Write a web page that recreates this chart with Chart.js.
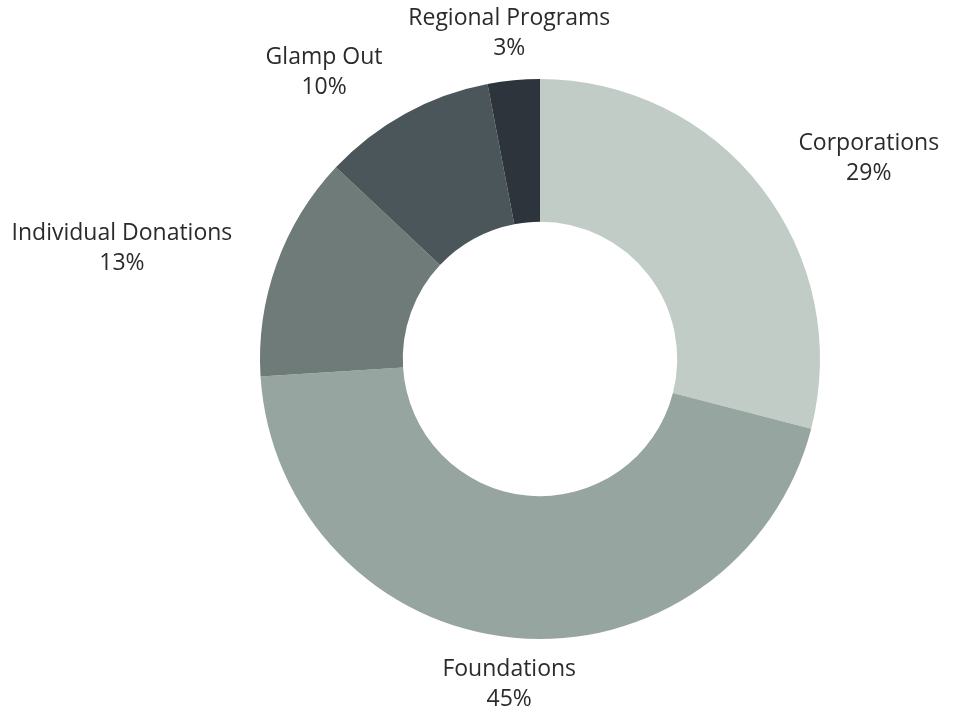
<!DOCTYPE html>
<html>
<head>
<meta charset="utf-8">
<script src="https://cdn.jsdelivr.net/npm/chart.js@4/dist/chart.umd.min.js"></script>
<style>
    html, body { margin: 0; padding: 0; background: #fff; }
    #wrap { width: 956px; height: 715px; position: relative; }
</style>
</head>
<body>
<div id="wrap"><canvas id="fundingChart"></canvas></div>
<script>
// Funding sources, clockwise from 12 o'clock
const categories = ['Corporations', 'Foundations', 'Individual Donations', 'Glamp Out', 'Regional Programs'];
const shares = [29, 45, 13, 10, 3];
const sliceColors = ['#c1ccc6', '#97a5a0', '#6e7b79', '#4b565b', '#2e343b'];

// draws "Name / NN%" just outside each slice
const outsideLabels = {
    id: 'outsideLabels',
    afterDatasetsDraw(chart) {
        const ctx = chart.ctx;
        const meta = chart.getDatasetMeta(0);
        ctx.save();
        ctx.font = '23px "Open Sans", sans-serif';
        ctx.fillStyle = '#2b2b2b';
        ctx.textAlign = 'center';
        ctx.textBaseline = 'middle';
        meta.data.forEach((arc, i) => {
            const mid = (arc.startAngle + arc.endAngle) / 2;
            const r = arc.outerRadius + 47;
            const cos = Math.cos(mid), sin = Math.sin(mid);
            const lines = [categories[i], shares[i] + '%'];
            const w = Math.max(...lines.map(t => ctx.measureText(t).width));
            let x = arc.x + r * cos;
            const y = arc.y + r * sin;
            if (Math.abs(cos) > 0.2) x += Math.sign(cos) * w / 2;
            ctx.fillText(lines[0], x, y - 15);
            ctx.fillText(lines[1], x, y + 15);
        });
        ctx.restore();
    }
};

new Chart(document.getElementById('fundingChart'), {
    type: 'doughnut',
    data: {
        labels: categories,
        datasets: [{
            data: shares,
            backgroundColor: sliceColors,
            borderWidth: 0
        }]
    },
    options: {
        responsive: true,
        maintainAspectRatio: false,
        animation: false,
        cutout: '49%',
        layout: { padding: { left: 200, right: 76, top: 79, bottom: 76 } },
        plugins: {
            legend: { display: false },
            tooltip: { enabled: false }
        }
    },
    plugins: [outsideLabels]
});
</script>
</body>
</html>
